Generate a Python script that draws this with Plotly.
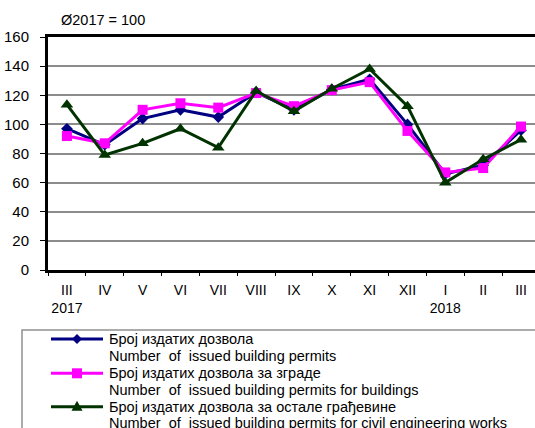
import plotly.graph_objects as go

months = ["III", "IV", "V", "VI", "VII", "VIII", "IX", "X", "XI", "XII", "I", "II", "III"]
years = ["2017", "", "", "", "", "", "", "", "", "", "2018", "", ""]
tick_labels = [m + ("<br>" + y if y else "") for m, y in zip(months, years)]

permits_total = [97, 86, 104, 110, 105, 122, 110, 124, 131, 100, 66, 72, 96]
permits_buildings = [92, 87, 110, 114.5, 111.5, 121.5, 112.5, 123.5, 129, 95.5, 67, 70, 98.5]
permits_civil = [113.5, 79, 87, 97, 84, 123, 109, 124.5, 138, 112.5, 60, 76, 89.5]

y_ticks = [0, 20, 40, 60, 80, 100, 120, 140, 160]

series_names = [
    ("Број издатих дозвола", "Number\u00a0 of\u00a0 issued building permits"),
    ("Број издатих дозвола за зграде", "Number\u00a0 of\u00a0 issued building permits for buildings"),
    ("Број издатих дозвола за остале грађевине", "Number\u00a0 of\u00a0 issued building permits for civil engineering works"),
]
colors = ["#000080", "#FF00FF", "#003300"]
symbols = ["diamond", "square", "triangle-up"]
sizes = [9, 10, 11]
series = [permits_total, permits_buildings, permits_civil]

W, H = 535, 428
ML, MR, MT, MB = 48, 0, 37, 158
PW, PH = W - ML - MR, H - MT - MB

def px(x):
    return (x - ML) / PW

def py(y):
    return (H - MB - y) / PH

fig = go.Figure()
xs = list(range(len(months)))
for vals, c, s, sz, nm in zip(series, colors, symbols, sizes, series_names):
    fig.add_trace(go.Scatter(
        x=xs, y=vals, mode="lines+markers", name=nm[0],
        line=dict(color=c, width=3),
        marker=dict(symbol=s, size=sz, color=c),
        showlegend=False, cliponaxis=False,
    ))

FONT = "Liberation Sans, Arial, sans-serif"

shapes = []
annotations = []
# legend box
shapes.append(dict(type="rect", xref="paper", yref="paper",
                   x0=px(22), x1=px(560), y0=py(330), y1=py(460),
                   line=dict(color="#909090", width=1.5), fillcolor="white", layer="above"))
row_y = [339, 356.2, 373.3, 390.3, 406.7, 423.3]
marker_paths = {
    "diamond": "M0,-5 L5,0 L0,5 L-5,0 Z",
    "square": "M-5,-5 L5,-5 L5,5 L-5,5 Z",
    "triangle-up": "M-5.5,-4 L5.5,-4 L0,6 Z",
}
for i, (nm, c, s) in enumerate(zip(series_names, colors, symbols)):
    yy = row_y[2 * i]
    shapes.append(dict(type="line", xref="paper", yref="paper",
                       x0=px(51), x1=px(103), y0=py(yy), y1=py(yy),
                       line=dict(color=c, width=3), layer="above"))
    shapes.append(dict(type="path", xref="paper", yref="paper",
                       xsizemode="pixel", ysizemode="pixel",
                       xanchor=px(77), yanchor=py(yy),
                       path=marker_paths[s], fillcolor=c,
                       line=dict(color=c, width=0), layer="above"))
    for j, txt in enumerate(nm):
        annotations.append(dict(text=txt, xref="paper", yref="paper",
                                x=px(107), y=py(row_y[2 * i + j]),
                                xanchor="left", yanchor="middle", showarrow=False,
                                font=dict(family=FONT, size=14.5, color="black")))

annotations.append(dict(text="Ø2017 = 100", xref="paper", yref="paper",
                        x=px(59), y=py(20), xanchor="left", yanchor="middle",
                        showarrow=False, font=dict(family=FONT, size=14.5, color="black")))

fig.update_layout(
    width=W, height=H,
    margin=dict(l=ML, r=MR, t=MT, b=MB, autoexpand=False),
    plot_bgcolor="white", paper_bgcolor="white",
    font=dict(family=FONT, size=15, color="black"),
    shapes=shapes, annotations=annotations,
    xaxis=dict(
        type="linear", range=[-0.5, 12.37],
        tickmode="array", tickvals=xs, ticktext=tick_labels,
        showgrid=False, zeroline=False,
        showline=True, linecolor="black", linewidth=3, mirror=True,
        ticks="",
        tickfont=dict(family=FONT, size=14, color="black"),
        ticklabelstandoff=5,
    ),
    yaxis=dict(
        range=[0, 160], tickmode="array", tickvals=y_ticks,
        showgrid=True, gridcolor="#8c8c8c", gridwidth=1.5,
        zeroline=False,
        showline=True, linecolor="black", linewidth=3,
        ticks="outside", ticklen=5, tickcolor="black", tickwidth=1,
        tickfont=dict(family=FONT, size=15, color="black"),
        ticklabelstandoff=8,
    ),
)

# boundary tick marks on the category axis via a secondary overlaying axis
fig.update_layout(xaxis2=dict(
    overlaying="x", matches="x", range=[-0.5, 12.37],
    tickmode="array", tickvals=[i - 0.5 for i in range(len(months) + 1)],
    showticklabels=False, ticks="outside", ticklen=5, tickcolor="black", tickwidth=1,
    showgrid=False, zeroline=False, side="bottom", anchor="y",
))
fig.add_trace(go.Scatter(x=[None], y=[None], xaxis="x2", showlegend=False, hoverinfo="skip"))

fig.write_html("out.html", config={"displayModeBar": False},
               post_script="document.body.style.margin='0';document.body.style.overflow='hidden';")
